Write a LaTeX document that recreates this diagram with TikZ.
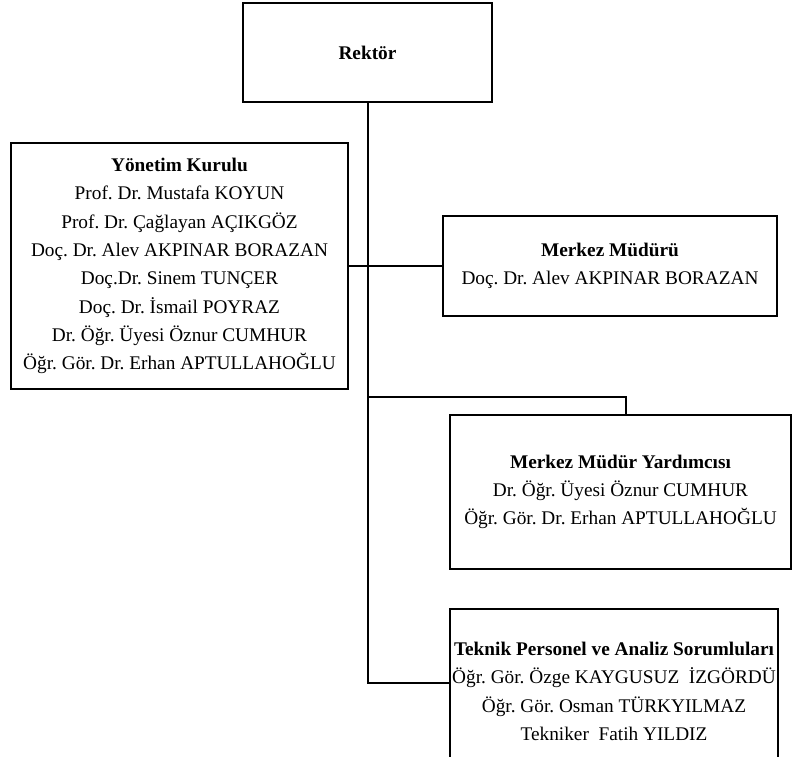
\documentclass[tikz,border=0pt]{standalone}
\usepackage{fontspec}
\setmainfont{Liberation Serif}
\frenchspacing
\begin{document}
\begin{tikzpicture}[x=1pt,y=-1pt,
  orgbox/.style={draw=black,line width=1.1pt,rectangle,inner sep=0pt,align=center,
    font=\fontsize{19.3}{28.3}\selectfont},
  link/.style={draw=black,line width=1.1pt}]
\clip (0,0) rectangle (792,756);
\fill[white] (0,0) rectangle (792,756);
\node[orgbox,minimum width=249pt,minimum height=99pt] (rek) at (367.5,52.5) {\textbf{Rektör}};
\node[orgbox,minimum width=337pt,minimum height=246pt] (yon) at (179.5,266) {\textbf{Yönetim Kurulu}\\Prof. Dr. Mustafa KOYUN\\Prof. Dr. Çağlayan AÇIKGÖZ\\Doç. Dr. Alev AKPINAR BORAZAN\\Doç.Dr. Sinem TUNÇER\\Doç. Dr. İsmail POYRAZ\\Dr. Öğr. Üyesi Öznur CUMHUR\\Öğr. Gör. Dr. Erhan APTULLAHOĞLU};
\node[orgbox,minimum width=334pt,minimum height=100pt] (mud) at (610,266) {\textbf{Merkez Müdürü}\\Doç. Dr. Alev AKPINAR BORAZAN};
\node[orgbox,minimum width=341pt,minimum height=154pt] (yrd) at (620.5,492) {\textbf{Merkez Müdür Yardımcısı}\\Dr. Öğr. Üyesi Öznur CUMHUR\\Öğr. Gör. Dr. Erhan APTULLAHOĞLU};
\node[orgbox,minimum width=328pt,minimum height=165pt] (tek) at (614,691.5) {\textbf{Teknik Personel ve Analiz Sorumluları}\\Öğr. Gör. Özge KAYGUSUZ\ \ İZGÖRDÜ\\Öğr. Gör. Osman TÜRKYILMAZ\\Tekniker\ \ Fatih YILDIZ};
\coordinate (j1) at (368,266);
\coordinate (j2) at (368,397);
\coordinate (j3) at (368,683);
\coordinate (k) at (626,397);
\draw[link] (rek.south -| j1) -- (j3) -- (j3 -| tek.west);
\draw[link] (yon.east |- j1) -- (mud.west |- j1);
\draw[link] (j2) -- (k) -- (k |- yrd.north);
\end{tikzpicture}
\end{document}
